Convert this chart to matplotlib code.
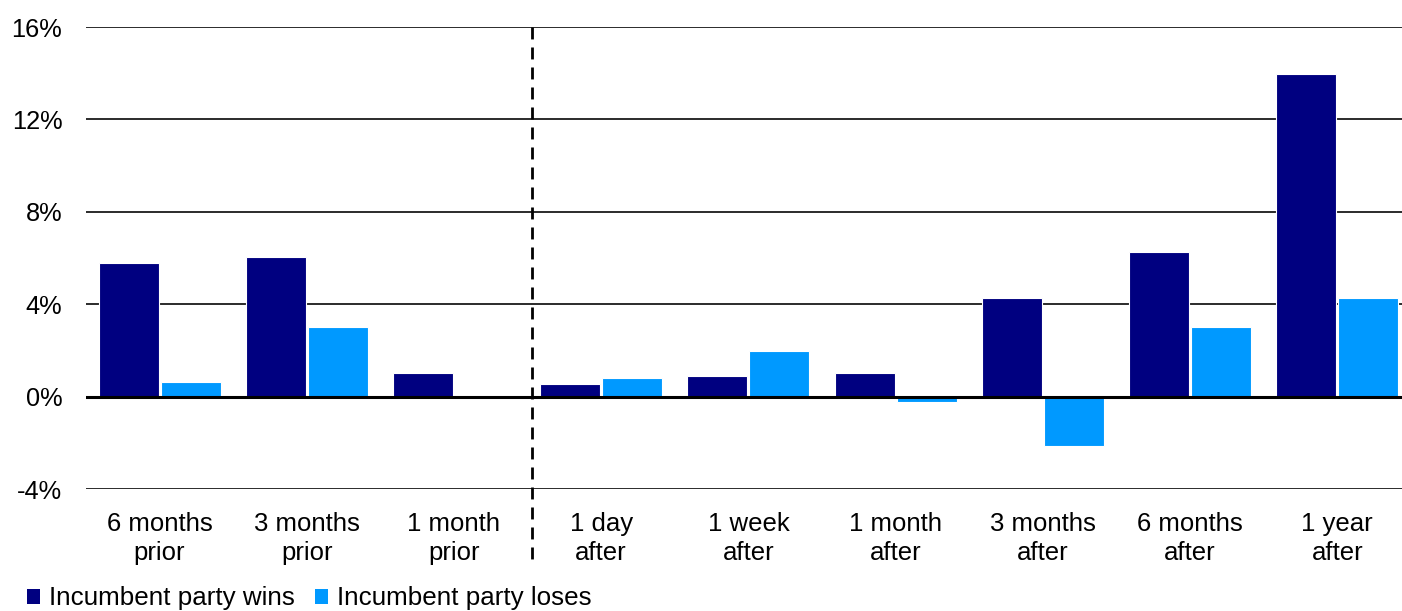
import matplotlib.pyplot as plt
import numpy as np
from matplotlib.patches import Patch

plt.rcParams["font.family"] = ["Liberation Sans", "DejaVu Sans"]

categories = [
    "6 months\nprior", "3 months\nprior", "1 month\nprior",
    "1 day\nafter", "1 week\nafter", "1 month\nafter",
    "3 months\nafter", "6 months\nafter", "1 year\nafter",
]
wins = [5.79, 6.05, 1.04, 0.56, 0.91, 1.04, 4.28, 6.27, 13.97]
loses = [0.65, 3.03, 0.04, 0.82, 1.99, -0.22, -2.12, 3.03, 4.28]
y_ticks = [-4, 0, 4, 8, 12, 16]
y_labels = ["-4%", "0%", "4%", "8%", "12%", "16%"]
series_names = ["Incumbent party wins", "Incumbent party loses"]
colors = ["#000080", "#0099ff"]

fig = plt.figure(figsize=(14.02, 6.11), dpi=100)
ax = fig.add_axes([0.0613, 0.1989, 0.9387, 0.7569])

x = np.arange(len(categories))
w = 0.4075
off = 0.2105

for yv in y_ticks:
    if yv == 0:
        continue
    ax.axhline(yv, color="#1a1a1a", lw=1.3, zorder=1)

ax.bar(x - off, wins, w, color=colors[0], edgecolor="white", linewidth=0.8, zorder=2)
ax.bar(x + off, loses, w, color=colors[1], edgecolor="white", linewidth=0.8, zorder=2)
ax.axhline(0, color="black", lw=2.2, zorder=3)

ax.plot([2.53, 2.53], [16, -7.05], color="black", lw=2.0,
        linestyle=(0, (4.3, 2.9)), clip_on=False, zorder=4)

ax.set_xlim(-0.5, 8.44)
ax.set_ylim(-4, 16)
ax.set_yticks(y_ticks)
ax.set_yticklabels(y_labels, fontsize=18.3)
ax.set_xticks(x)
ax.set_xticklabels(categories, fontsize=18.5, linespacing=1.27)
ax.tick_params(axis="y", length=0, pad=17)
ax.tick_params(axis="x", length=0, pad=16)
for s in ax.spines.values():
    s.set_visible(False)

handles = [Patch(facecolor=c, edgecolor="none") for c in colors]
fig.legend(handles, series_names, loc="lower left", bbox_to_anchor=(0.012, -0.016),
           ncol=2, frameon=False, fontsize=18.7, handlelength=0.5, handleheight=0.5,
           handletextpad=0.35, columnspacing=0.75, borderaxespad=0)

fig.savefig("out.png", dpi=100)
